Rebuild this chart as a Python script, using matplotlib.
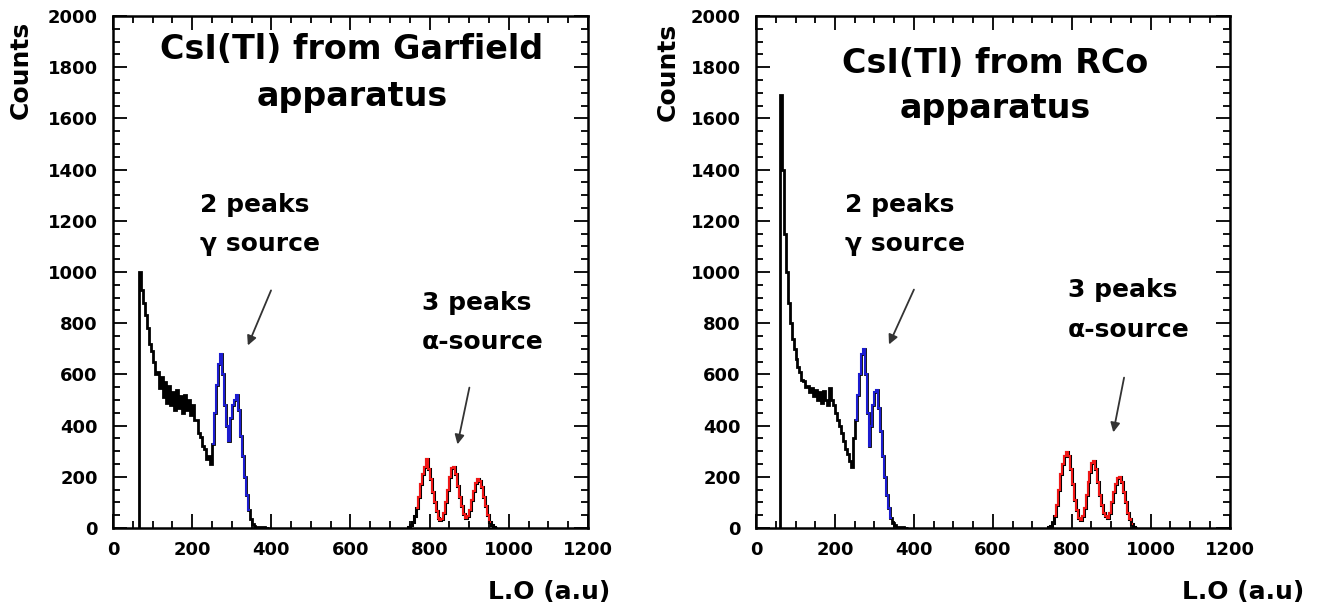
import numpy as np
import matplotlib.pyplot as plt
from matplotlib.ticker import MultipleLocator

plt.rcParams['font.family'] = ['DejaVu Sans']
plt.rcParams['font.weight'] = 'bold'

# histogram contents, 5 (a.u) wide bins
BIN = 5

# --- Garfield apparatus ---
garf_low_start = 65
garf_low = [1000, 930, 880, 830, 780, 720, 690, 650, 600, 610,
            545, 590, 510, 570, 490, 555, 480, 530, 460, 540,
            470, 515, 450, 520, 460, 500, 440, 480, 420, 420,
            370, 355, 320, 310, 270, 280, 250, 330, 450, 560,
            640, 680, 600, 480, 400, 340, 430, 480, 500, 520,
            460, 360, 280, 200, 130, 70, 35, 15, 8, 5,
            4, 3, 2, 3, 1, 0]
garf_alpha_start = 745
garf_alpha = [5, 12, 25, 45, 80, 120, 170, 210, 240, 270,
              230, 190, 140, 100, 65, 40, 30, 35, 60, 100,
              150, 200, 235, 240, 210, 165, 120, 85, 55, 40,
              45, 70, 110, 145, 175, 190, 185, 160, 120, 85,
              50, 25, 12, 5, 0]

# --- RCo apparatus ---
rco_low_start = 60
rco_low = [1690, 1400, 1150, 1000, 880, 800, 740, 700, 660, 630,
           610, 580, 575, 550, 555, 530, 545, 515, 540, 500,
           530, 490, 535, 500, 480, 545, 500, 480, 450, 420,
           400, 370, 340, 310, 290, 260, 240, 350, 420, 520,
           600, 680, 700, 600, 450, 320, 400, 480, 530, 540,
           470, 380, 280, 200, 130, 80, 40, 20, 10, 5,
           4, 3, 2, 1, 0]
rco_alpha_start = 740
rco_alpha = [3, 8, 20, 45, 90, 150, 210, 250, 280, 295,
             280, 230, 170, 110, 70, 40, 30, 45, 80, 130,
             180, 220, 255, 260, 230, 180, 130, 90, 60, 45,
             40, 60, 100, 140, 170, 195, 200, 180, 140, 100,
             60, 35, 15, 5, 0]

# coloured ranges (a.u)
gamma_range = (250, 345)
garf_alpha_range = (765, 955)
rco_alpha_range = (755, 955)


def edges_for(start, vals):
    return start + BIN * np.arange(len(vals) + 1)


def sub(start, vals, lo, hi):
    e = edges_for(start, vals)
    i0 = int(np.searchsorted(e, lo))
    i1 = int(np.searchsorted(e, hi))
    return np.asarray(vals[i0:i1]), e[i0:i1 + 1]


def draw_panel(ax, low_start, low, alpha_start, alpha, alpha_rng):
    ax.stairs(low, edges_for(low_start, low), baseline=0, color='black', lw=2.0)
    ax.stairs(alpha, edges_for(alpha_start, alpha), baseline=0, color='black', lw=2.2)
    v, e = sub(low_start, low, *gamma_range)
    ax.stairs(v, e, baseline=None, color='#1c1cd0', lw=1.5)
    v, e = sub(alpha_start, alpha, *alpha_rng)
    ax.stairs(v, e, baseline=None, color='#f01818', lw=1.5)

    ax.set_xlim(0, 1200)
    ax.set_ylim(0, 2000)
    ax.xaxis.set_major_locator(MultipleLocator(200))
    ax.xaxis.set_minor_locator(MultipleLocator(50))
    ax.yaxis.set_major_locator(MultipleLocator(200))
    ax.yaxis.set_minor_locator(MultipleLocator(50))
    ax.tick_params(which='both', direction='in', top=True, right=True,
                   labelsize=13, width=1.3)
    ax.tick_params(which='major', length=10)
    ax.tick_params(which='minor', length=5)
    ax.tick_params(axis='x', pad=9)
    ax.tick_params(axis='y', pad=11)
    for lab in ax.get_xticklabels() + ax.get_yticklabels():
        lab.set_fontweight('bold')
    for s in ax.spines.values():
        s.set_linewidth(1.8)


fig = plt.figure(figsize=(13.19, 6.06), dpi=100)
ax1 = fig.add_axes([0.0857, 0.1287, 0.360, 0.845])
ax2 = fig.add_axes([0.5732, 0.1287, 0.359, 0.845])

draw_panel(ax1, garf_low_start, garf_low, garf_alpha_start, garf_alpha, garf_alpha_range)
draw_panel(ax2, rco_low_start, rco_low, rco_alpha_start, rco_alpha, rco_alpha_range)

title_kw = dict(fontsize=24, fontweight='bold', ha='center', va='center')
note_kw = dict(fontsize=18, fontweight='bold', ha='left', va='center')
arrow_kw = dict(arrowstyle='-|>', color='#333333', lw=1.3, mutation_scale=14)

# Garfield panel texts
ax1.text(604, 1867, 'CsI(Tl) from Garfield', **title_kw)
ax1.text(604, 1684, 'apparatus', **title_kw)
ax1.text(220, 1262, '2 peaks', **note_kw)
ax1.text(220, 1109, 'γ source', **note_kw)
ax1.text(780, 879, '3 peaks', **note_kw)
ax1.text(780, 727, 'α-source', **note_kw)
ax1.annotate('', xy=(338, 703), xytext=(402, 938), arrowprops=arrow_kw)
ax1.annotate('', xy=(869, 316), xytext=(902, 559), arrowprops=arrow_kw)

# RCo panel texts
ax2.text(605, 1813, 'CsI(Tl) from RCo', **title_kw)
ax2.text(605, 1640, 'apparatus', **title_kw)
ax2.text(225, 1262, '2 peaks', **note_kw)
ax2.text(225, 1109, 'γ source', **note_kw)
ax2.text(790, 930, '3 peaks', **note_kw)
ax2.text(790, 773, 'α-source', **note_kw)
ax2.annotate('', xy=(334, 707), xytext=(403, 941), arrowprops=arrow_kw)
ax2.annotate('', xy=(904, 363), xytext=(934, 598), arrowprops=arrow_kw)

# axis labels, ROOT style placement
fig.text(21 / 1319, 1 - 70 / 606, 'Counts', rotation=90, fontsize=18,
         fontweight='bold', ha='center', va='center')
fig.text(668 / 1319, 1 - 72 / 606, 'Counts', rotation=90, fontsize=18,
         fontweight='bold', ha='center', va='center')
fig.text(610 / 1319, 1 - 592 / 606, 'L.O (a.u)', fontsize=18,
         fontweight='bold', ha='right', va='center')
fig.text(1304 / 1319, 1 - 592 / 606, 'L.O (a.u)', fontsize=18,
         fontweight='bold', ha='right', va='center')

fig.savefig('out.png', dpi=100)
